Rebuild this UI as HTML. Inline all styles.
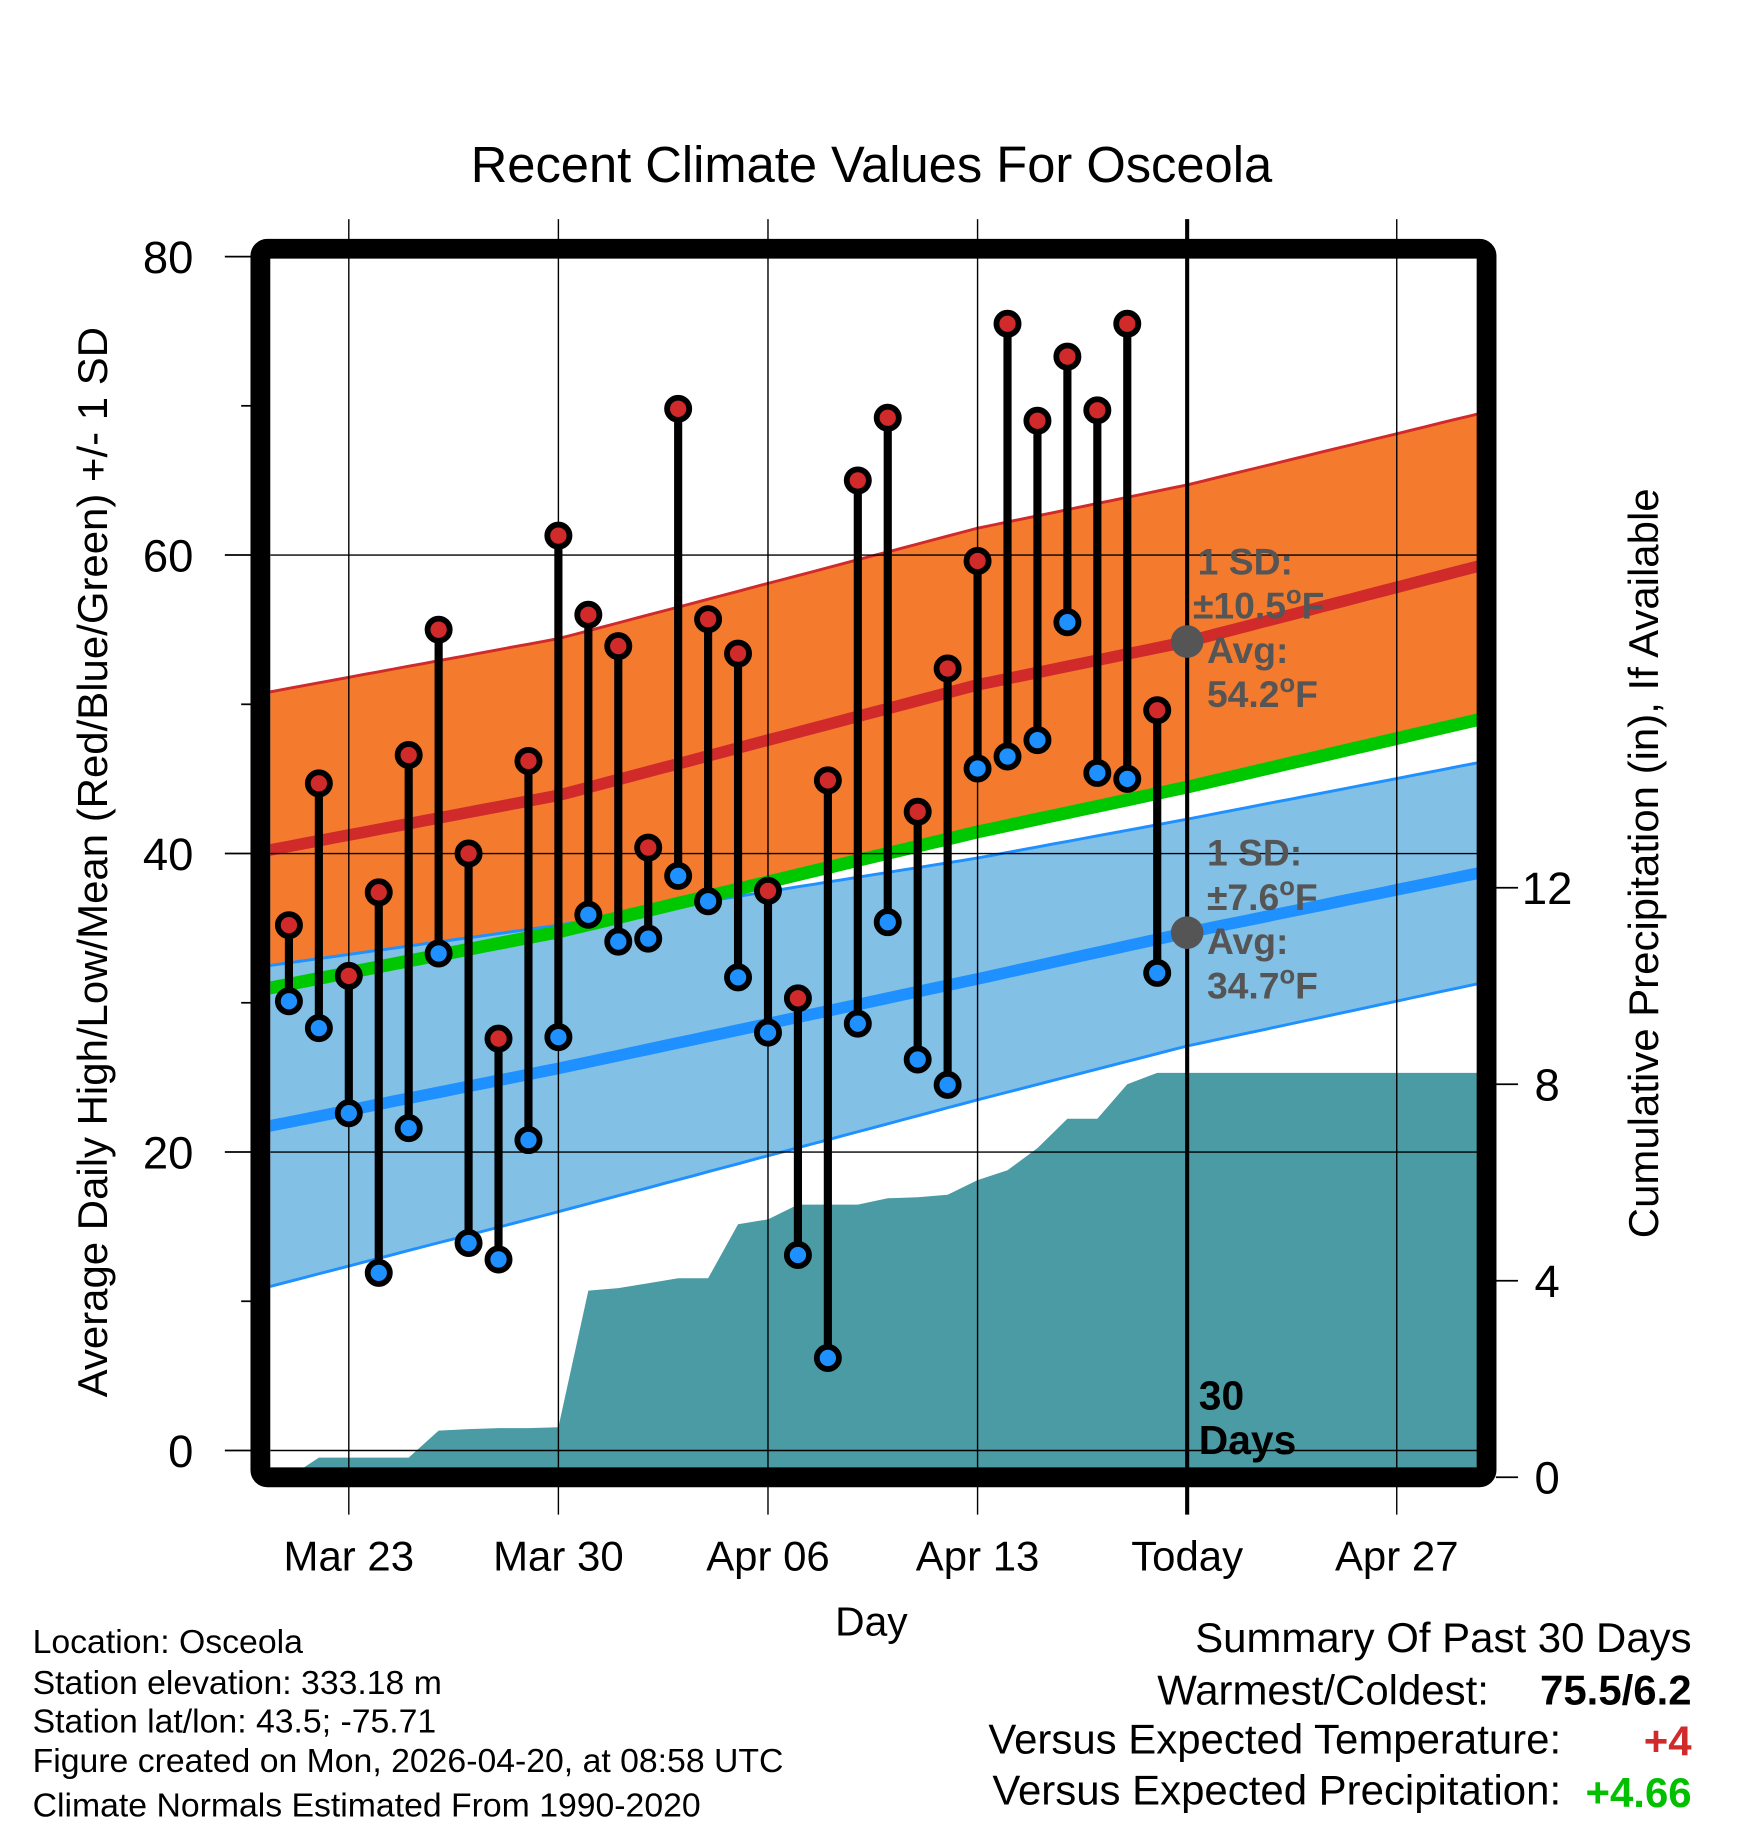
<!DOCTYPE html>
<html><head><meta charset="utf-8"><style>
html,body{margin:0;padding:0;background:#fff;}
svg{display:block;font-family:"Liberation Sans",Arial,sans-serif;}
</style></head><body>
<svg id="chart" width="1748" height="1828" viewBox="0 0 1500.4 1569" xmlns="http://www.w3.org/2000/svg">
<defs><clipPath id="plotclip"><rect x="232" y="222" width="1036" height="1038"/></clipPath></defs>
<rect x="0" y="0" width="1500.4" height="1569" fill="#fff"/>
<text x="748" y="156" font-size="43.5" text-anchor="middle">Recent Climate Values For Osceola</text>
<g id="plot" clip-path="url(#plotclip)"></g>
<g id="over"></g>
<rect x="223.5" y="213.5" width="1052.5" height="1054.5" rx="6" fill="none" stroke="#000" stroke-width="17"/>
<g id="axes"></g>
<text x="748" y="1404" font-size="35" text-anchor="middle">Day</text>
<text transform="translate(92,740) rotate(-90)" font-size="36" text-anchor="middle">Average Daily High/Low/Mean (Red/Blue/Green) +/- 1 SD</text>
<text transform="translate(1423,741) rotate(-90)" font-size="36" text-anchor="middle">Cumulative Precipitation (in), If Available</text>
<g font-size="29">
<text x="28" y="1419">Location: Osceola</text>
<text x="28" y="1454">Station elevation: 333.18 m</text>
<text x="28" y="1487">Station lat/lon: 43.5; -75.71</text>
<text x="28" y="1521">Figure created on Mon, 2026-04-20, at 08:58 UTC</text>
<text x="28" y="1559">Climate Normals Estimated From 1990-2020</text>
</g>
<g font-size="36">
<text x="1452" y="1418" text-anchor="end">Summary Of Past 30 Days</text>
<text x="1278" y="1463" text-anchor="end">Warmest/Coldest:</text>
<text x="1452" y="1463" text-anchor="end" font-weight="bold">75.5/6.2</text>
<text x="1340" y="1505" text-anchor="end">Versus Expected Temperature:</text>
<text x="1452" y="1507" text-anchor="end" font-weight="bold" fill="#d12a2a">+4</text>
<text x="1340" y="1549" text-anchor="end">Versus Expected Precipitation:</text>
<text x="1452" y="1551" text-anchor="end" font-weight="bold" fill="#00c000">+4.66</text>
</g>
</svg>
<script>
// Daily observations, Mar 21 .. Apr 19 (day index 0..29)
const highs = [35.2,44.7,31.8,37.4,46.6,55.0,40.0,27.6,46.2,61.3,56.0,53.9,40.4,69.8,55.7,53.4,37.5,30.3,44.9,65.0,69.2,42.8,52.4,59.6,75.5,69.0,73.3,69.7,75.5,49.6];
const lows = [30.1,28.3,22.6,11.9,21.6,33.3,13.9,12.8,20.8,27.7,35.9,34.1,34.3,38.5,36.8,31.7,28.0,13.1,6.2,28.6,35.4,26.2,24.5,45.7,46.5,47.6,55.5,45.4,45.0,32.0];
const precip = [0,0.40,0.40,0.40,0.40,0.95,0.98,1.0,1.0,1.02,3.80,3.85,3.95,4.05,4.05,5.15,5.25,5.55,5.55,5.55,5.68,5.70,5.75,6.05,6.25,6.70,7.30,7.30,8.0,8.23];
// Climate normals at selected day indices
const normDays = [-1,9,23,30,40];
const normHigh = [40.1,43.9,51.3,54.2,59.4];
const sdHigh = [10.6,10.5,10.5,10.5,10.2];
const normLow = [21.6,25.6,31.6,34.7,38.8];
const sdLow = [10.8,9.6,8.1,7.6,7.4];
const xTickDays = [2,9,16,23,30,37];
const xTickLabels = ["Mar 23","Mar 30","Apr 06","Apr 13","Today","Apr 27"];
const yTicks = [0,20,40,60,80];
const yMinor = [10,30,50,70];
const pTicks = [0,4,8,12];
const todayDay = 30;

const NS="http://www.w3.org/2000/svg";
const xd = d => 248 + 25.7*d;
const yt = v => 1245 - 12.81*v;
const yp = v => 1268 - 42.17*v;
function interp(arr,d){
  for(let i=0;i<normDays.length-1;i++){
    if(d<=normDays[i+1]||i===normDays.length-2){
      const t=(d-normDays[i])/(normDays[i+1]-normDays[i]);
      return arr[i]+(arr[i+1]-arr[i])*t;
    }
  }
}
function mk(tag,attrs,parent){const e=document.createElementNS(NS,tag);for(const k in attrs)e.setAttribute(k,attrs[k]);parent.appendChild(e);return e;}
const plot=document.getElementById('plot'), over=document.getElementById('over'), axes=document.getElementById('axes');
const samples=[];for(let d=-1;d<=40.01;d+=0.5)samples.push(d);
function line(f){return samples.map((d,i)=>(i?'L':'M')+xd(d).toFixed(1)+','+yt(f(d)).toFixed(1)).join(' ');}
function band(fu,fl){return line(fu)+' '+samples.slice().reverse().map(d=>'L'+xd(d).toFixed(1)+','+yt(fl(d)).toFixed(1)).join(' ')+' Z';}
const hi=d=>interp(normHigh,d), sh=d=>interp(sdHigh,d), lo=d=>interp(normLow,d), sl=d=>interp(sdLow,d);
const mean=d=>(hi(d)+lo(d))/2;

let e;
e=mk('path',{d:band(d=>hi(d)+sh(d),d=>Math.max(hi(d)-sh(d),mean(d))),fill:'#f47a2e'},plot);

e=mk('path',{d:line(d=>hi(d)+sh(d)),fill:'none',stroke:'#d12a2a','stroke-width':2.5},plot);

e=mk('path',{d:band(d=>lo(d)+sl(d),d=>lo(d)-sl(d)),fill:'#82c0e6'},plot);

e=mk('path',{d:line(d=>lo(d)+sl(d)),fill:'none',stroke:'#1e90ff','stroke-width':2.5},plot);

e=mk('path',{d:line(d=>lo(d)-sl(d)),fill:'none',stroke:'#1e90ff','stroke-width':2.5},plot);

e=mk('path',{d:line(mean),fill:'none',stroke:'#00c800','stroke-width':11},plot);

e=mk('path',{d:line(hi),fill:'none',stroke:'#d12a2a','stroke-width':10},plot);

e=mk('path',{d:line(lo),fill:'none',stroke:'#1e90ff','stroke-width':10},plot);


// precipitation area
let pd='M'+xd(-1)+','+yp(0)+' L'+xd(0)+','+yp(precip[0]);
precip.forEach((v,i)=>{pd+=' L'+xd(i).toFixed(1)+','+yp(v).toFixed(1);});
pd+=' L'+xd(41)+','+yp(precip[precip.length-1]).toFixed(1)+' L'+xd(41)+','+yp(0)+' Z';
e=mk('path',{d:pd,fill:'#4a9ba4'},plot);


// grid lines
yTicks.forEach(v=>{if(v>0&&v<80){e=mk('line',{x1:232,x2:1268,y1:yt(v),y2:yt(v),stroke:'#000','stroke-width':1.2},plot);
}});
e=mk('line',{x1:232,x2:1268,y1:yt(0),y2:yt(0),stroke:'#000','stroke-width':1.2},plot);

xTickDays.forEach(d=>{
  e=mk('line',{x1:xd(d),x2:xd(d),y1:188,y2:1300,stroke:'#000','stroke-width':d===todayDay?3.5:1.2},over);
  
});

// stems and dots
highs.forEach((h,i)=>{
  e=mk('line',{x1:xd(i),x2:xd(i),y1:yt(h),y2:yt(lows[i]),stroke:'#000','stroke-width':7},over);
  
});
highs.forEach((h,i)=>{
  e=mk('circle',{cx:xd(i),cy:yt(h),r:9.5,fill:'#d12a2a',stroke:'#000','stroke-width':5},over);
  
  e=mk('circle',{cx:xd(i),cy:yt(lows[i]),r:9.5,fill:'#1e90ff',stroke:'#000','stroke-width':5},over);
  
});

// today markers and annotations
const tH=hi(todayDay), tL=lo(todayDay), tSH=sh(todayDay), tSL=sl(todayDay);
e=mk('circle',{cx:xd(todayDay),cy:yt(tH),r:14,fill:'#555'},over);

e=mk('circle',{cx:xd(todayDay),cy:yt(tL),r:14,fill:'#555'},over);

function ann(lines,x,y,name,fill,fs){
  const t=mk('text',{x:x,y:y,'font-size':fs,'font-weight':'bold',fill:fill},over);
  
  lines.forEach((s,i)=>{const ts=mk('tspan',{x:x+(s.dx||0),dy:i?38:0},t);ts.innerHTML=s.t;});
}
const deg='<tspan dy="-13" font-size="22">o</tspan><tspan dy="13">F</tspan>';
ann([{t:'1 SD:',dx:-2},{t:'±'+tSH.toFixed(1)+deg,dx:-6},{t:'Avg:',dx:6},{t:tH.toFixed(1)+deg,dx:6}],1030,493,'high-normal-annotation','#555',32);
ann([{t:'1 SD:',dx:6},{t:'±'+tSL.toFixed(1)+deg,dx:6},{t:'Avg:',dx:6},{t:tL.toFixed(1)+deg,dx:6}],1030,743,'low-normal-annotation','#555',32);
ann([{t:'30'},{t:'Days'}],1029,1210,'days-annotation','#000',35);

// left axis
yTicks.forEach(v=>{
  e=mk('line',{x1:193,x2:216,y1:yt(v),y2:yt(v),stroke:'#000','stroke-width':1.5},axes);
  
  e=mk('text',{x:166,y:yt(v)+14,'font-size':39,'text-anchor':'end'},axes);
  
  e.textContent=v;
});
yMinor.forEach(v=>{
  e=mk('line',{x1:207,x2:216,y1:yt(v),y2:yt(v),stroke:'#000','stroke-width':1.5},axes);
  
});
// right axis
pTicks.forEach(v=>{
  e=mk('line',{x1:1284,x2:1303,y1:yp(v),y2:yp(v),stroke:'#000','stroke-width':1.5},axes);
  
  e=mk('text',{x:1328,y:yp(v)+14,'font-size':39,'text-anchor':'middle'},axes);
  
  e.textContent=v;
});
// x labels
xTickDays.forEach((d,i)=>{
  e=mk('text',{x:xd(d),y:1348,'font-size':36,'text-anchor':'middle'},axes);
  
  e.textContent=xTickLabels[i];
});
</script>
</body></html>
